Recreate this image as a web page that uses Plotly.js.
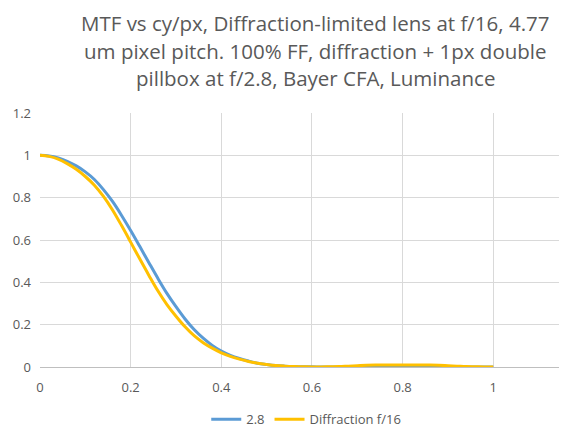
<!DOCTYPE html>
<html>
<head>
<meta charset="utf-8">
<script src="https://cdn.plot.ly/plotly-3.0.1.min.js"></script>
<style>html,body{margin:0;padding:0;background:#fff;}#chart{width:561px;height:444px;}</style>
</head>
<body>
<div id="chart"></div>
<script>
var freq = [0, 0.02, 0.04, 0.06, 0.08, 0.10, 0.12, 0.14, 0.16, 0.18, 0.20, 0.22, 0.24, 0.26, 0.28, 0.30, 0.32, 0.34, 0.36, 0.38, 0.40, 0.42, 0.44, 0.46, 0.48, 0.50, 0.52, 0.54, 0.56, 0.58, 0.60, 0.62, 0.64, 0.66, 0.68, 0.70, 0.72, 0.74, 0.76, 0.78, 0.80, 0.82, 0.84, 0.86, 0.88, 0.90, 0.92, 0.94, 0.96, 0.98, 1.00];
var mtf28 = [1.000, 0.997, 0.988, 0.972, 0.950, 0.922, 0.886, 0.838, 0.782, 0.716, 0.645, 0.570, 0.494, 0.419, 0.348, 0.285, 0.227, 0.177, 0.136, 0.102, 0.075, 0.055, 0.040, 0.028, 0.018, 0.012, 0.007, 0.004, 0.002, 0.001, 0.001, 0.000, 0.000, 0.000, 0.000, 0.000, 0.000, 0.000, 0.000, 0.000, 0.000, 0.000, 0.000, 0.000, 0.000, 0.000, 0.000, 0.000, 0.000, 0.000, 0.000];
var mtfF16 = [1.000, 0.995, 0.982, 0.961, 0.934, 0.900, 0.859, 0.806, 0.742, 0.668, 0.590, 0.511, 0.434, 0.360, 0.295, 0.240, 0.190, 0.148, 0.115, 0.089, 0.067, 0.050, 0.037, 0.026, 0.018, 0.012, 0.007, 0.004, 0.002, 0.001, 0.000, 0.000, 0.001, 0.002, 0.004, 0.006, 0.008, 0.009, 0.009, 0.009, 0.009, 0.009, 0.009, 0.009, 0.008, 0.006, 0.004, 0.002, 0.001, 0.000, 0.000];
var seriesNames = ["2.8", "Diffraction f/16"];
var xTicks = [0, 0.2, 0.4, 0.6, 0.8, 1];
var yTicks = [0, 0.2, 0.4, 0.6, 0.8, 1, 1.2];
var titleLines = ["MTF vs cy/px, Diffraction-limited lens at f/16, 4.77", "um pixel pitch. 100% FF, diffraction + 1px double", "pillbox at f/2.8, Bayer CFA, Luminance"];

var grey = '#595959';
var traces = [
  {x: freq, y: mtf28, name: seriesNames[0], type: 'scatter', mode: 'lines', line: {color: '#5B9BD5', width: 3, shape: 'spline'}},
  {x: freq, y: mtfF16, name: seriesNames[1], type: 'scatter', mode: 'lines', line: {color: '#FFC000', width: 3, shape: 'spline'}}
];
var titleY = [1.354, 1.245, 1.137];
var annotations = titleLines.map(function (t, i) {
  return {text: t, xref: 'paper', yref: 'paper', x: 0.53, y: titleY[i], xanchor: 'center', yanchor: 'middle',
          showarrow: false, font: {family: 'Open Sans, sans-serif', size: 20.5, color: grey}};
});
var layout = {
  width: 561, height: 444,
  paper_bgcolor: '#fff', plot_bgcolor: '#fff',
  margin: {l: 40, r: 2, t: 113, b: 77},
  font: {family: 'Open Sans, sans-serif', color: grey, size: 13},
  annotations: annotations,
  xaxis: {range: [0, 1.145], tickvals: xTicks, ticktext: xTicks.map(String), showgrid: true, gridcolor: '#d9d9d9', gridwidth: 1,
          zeroline: false, showline: true, linecolor: '#bfbfbf', linewidth: 1, ticks: '', ticklabelstandoff: 8,
          tickfont: {size: 13, color: grey}, fixedrange: true},
  yaxis: {range: [0, 1.2], tickvals: yTicks, ticktext: yTicks.map(String), showgrid: true, gridcolor: '#d9d9d9', gridwidth: 1,
          zeroline: false, showline: false, ticks: '', ticklabelstandoff: 8, tickfont: {size: 13, color: grey}, fixedrange: true},
  showlegend: true,
  legend: {orientation: 'h', x: 0.513, xanchor: 'center', y: -0.147, yanchor: 'top', font: {size: 13, color: grey}, bgcolor: 'rgba(0,0,0,0)'}
};
Plotly.newPlot('chart', traces, layout, {displayModeBar: false, staticPlot: true});
</script>
</body>
</html>
